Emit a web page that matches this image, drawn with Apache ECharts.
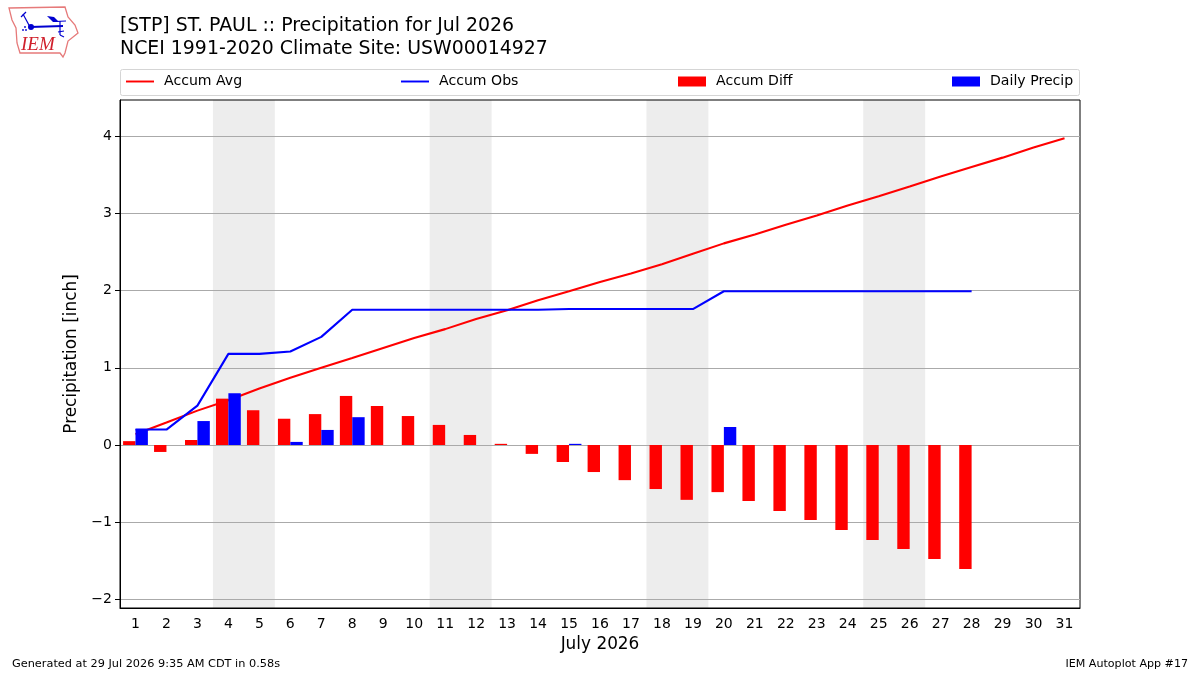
<!DOCTYPE html>
<html>
<head>
<meta charset="utf-8">
<title>Precipitation for Jul 2026</title>
<script src="https://cdn.jsdelivr.net/npm/echarts@6/dist/echarts.min.js"></script>
<style>
html, body { margin: 0; padding: 0; background: #fff; }
#chart { width: 1200px; height: 675px; }
</style>
</head>
<body>
<div id="chart"></div>
<script>
const days = ['1','2','3','4','5','6','7','8','9','10','11','12','13','14','15','16',
  '17','18','19','20','21','22','23','24','25','26','27','28','29','30','31'];
const accumAvg = [0.14,0.29,0.445,0.58,0.73,0.87,1.0,1.125,1.255,1.385,1.50,1.63,1.745,1.875,1.99,2.11,
  2.22,2.34,2.475,2.61,2.725,2.85,2.97,3.10,3.22,3.345,3.475,3.60,3.72,3.85,3.97];
const accumObs = [0.20,0.20,0.51,1.18,1.18,1.21,1.40,1.75,1.75,1.75,1.75,1.75,1.75,1.75,1.76,1.76,
  1.76,1.76,1.76,1.99,1.99,1.99,1.99,1.99,1.99,1.99,1.99,1.99,null,null,null];
const accumDiff = [0.05,-0.09,0.065,0.60,0.45,0.34,0.40,0.635,0.505,0.375,0.26,0.13,0.015,-0.115,-0.22,-0.35,
  -0.455,-0.57,-0.71,-0.61,-0.725,-0.855,-0.97,-1.10,-1.23,-1.347,-1.477,-1.606,null,null,null];
const dailyPrecip = [0.207,null,0.31,0.67,null,0.04,0.195,0.36,null,null,null,null,null,null,0.015,null,
  null,null,null,0.233,null,null,null,null,null,null,null,null,null,null,null];
const weekends = [[3.5,5.5],[10.5,12.5],[17.5,19.5],[24.5,26.5]];
const yTicks = [-2,-1,0,1,2,3,4];
const seriesNames = ['Accum Avg','Accum Obs','Accum Diff','Daily Precip'];
const legendLefts = [126,401,678,952];

const FONT = 'DejaVu Sans';
const RED = '#ff0000';
const BLUE = '#0000ff';

const chart = echarts.init(document.getElementById('chart'), null, { renderer: 'canvas' });

// One legend block per entry, spread across the strip above the plot.
const legends = seriesNames.map((name, i) => ({
  data: [{ name, icon: i < 2 ? 'path://M0,0H29V2H0Z' : 'rect' }],
  left: legendLefts[i],
  top: 74.5,
  padding: 0,
  itemWidth: 28,
  itemHeight: i < 2 ? 2 : 10,
  selectedMode: false,
  textStyle: { fontFamily: FONT, fontSize: 14.1, color: '#000', padding: [2, 0, 0, 5] }
}));

// Station logo: state outline, wind vane and lettering.
const logo = [
  { type: 'polygon', shape: { points: [[9,8],[65,7],[68,17],[75,25],[78,33],[68,41],[65,53],[63,57],[60,53],[20,53],[17,43],[16,28],[12,20]] },
    style: { fill: '#fff', stroke: '#e67a7a', lineWidth: 1.3 } },
  { type: 'line', shape: { x1: 30, y1: 27, x2: 63, y2: 26 }, style: { stroke: '#0000d0', lineWidth: 2 } },
  { type: 'line', shape: { x1: 30, y1: 27, x2: 23, y2: 14 }, style: { stroke: '#0000d0', lineWidth: 1.2 } },
  { type: 'line', shape: { x1: 21, y1: 17, x2: 26, y2: 12 }, style: { stroke: '#0000d0', lineWidth: 1.2 } },
  { type: 'circle', shape: { cx: 31, cy: 27, r: 3 }, style: { fill: '#0000d0' } },
  { type: 'polygon', shape: { points: [[47,16],[54,17],[59,22],[53,22]] }, style: { fill: '#0000d0' } },
  { type: 'line', shape: { x1: 55, y1: 21.5, x2: 66, y2: 21 }, style: { stroke: '#0000d0', lineWidth: 1.2 } },
  { type: 'line', shape: { x1: 60, y1: 21, x2: 60, y2: 35 }, style: { stroke: '#0000d0', lineWidth: 1.2 } },
  { type: 'line', shape: { x1: 58, y1: 32, x2: 64, y2: 31 }, style: { stroke: '#0000d0', lineWidth: 1.2 } },
  { type: 'line', shape: { x1: 60, y1: 35, x2: 64, y2: 37 }, style: { stroke: '#0000d0', lineWidth: 1.2 } },
  { type: 'circle', shape: { cx: 25, cy: 27, r: 0.9 }, style: { fill: '#0000d0' } },
  { type: 'circle', shape: { cx: 23, cy: 30, r: 0.9 }, style: { fill: '#0000d0' } },
  { type: 'circle', shape: { cx: 26, cy: 30, r: 0.9 }, style: { fill: '#0000d0' } },
  { type: 'text', x: 21, y: 35, style: { text: 'IEM', fill: '#d0202c',
      font: 'italic 19px "Liberation Serif"' } }
];

chart.setOption({
  animation: false,
  backgroundColor: '#fff',
  title: [
    { text: '[STP] ST. PAUL :: Precipitation for Jul 2026', left: 120, top: 17, padding: 0,
      textStyle: { fontFamily: FONT, fontSize: 18.9, fontWeight: 'normal', color: '#000' } },
    { text: 'NCEI 1991-2020 Climate Site: USW00014927', left: 120, top: 40, padding: 0,
      textStyle: { fontFamily: FONT, fontSize: 18.9, fontWeight: 'normal', color: '#000' } },
    { text: 'Generated at 29 Jul 2026 9:35 AM CDT in 0.58s', left: 12, top: 659, padding: 0,
      textStyle: { fontFamily: FONT, fontSize: 11.3, fontWeight: 'normal', color: '#000' } },
    { text: 'IEM Autoplot App #17', right: 12, top: 659, padding: 0,
      textStyle: { fontFamily: FONT, fontSize: 11.1, fontWeight: 'normal', color: '#000' } }
  ],
  legend: legends,
  grid: { left: 120, top: 100, width: 960, height: 508, show: true, borderColor: '#000', borderWidth: 1, backgroundColor: 'transparent' },
  xAxis: [
    {
      type: 'category', data: days, boundaryGap: true,
      name: 'July 2026', nameLocation: 'middle', nameGap: 28,
      nameTextStyle: { fontFamily: FONT, fontSize: 16.9, color: '#000' },
      axisLine: { onZero: false, lineStyle: { color: '#000', width: 1 } },
      axisTick: { alignWithLabel: true, length: 5, lineStyle: { color: '#000', width: 1 } },
      axisLabel: { interval: 0, margin: 9, fontFamily: FONT, fontSize: 14, color: '#000' },
      splitLine: { show: false }
    },
    { type: 'value', min: 0.5, max: 31.5, show: false, splitLine: { show: false } }
  ],
  yAxis: {
    type: 'value', min: -2.11, max: 4.466,
    name: 'Precipitation [inch]', nameLocation: 'middle', nameGap: 33,
    nameTextStyle: { fontFamily: FONT, fontSize: 16.9, color: '#000' },
    axisLine: { show: true, lineStyle: { color: '#000', width: 1 } },
    axisTick: { show: true, length: 5, lineStyle: { color: '#000', width: 1 }, customValues: yTicks },
    axisLabel: { margin: 8, padding: [2, 0, 0, 0], fontFamily: FONT, fontSize: 14, color: '#000', customValues: yTicks,
      formatter: v => String(v).replace('-', '\u2212') },
    splitLine: { show: true, lineStyle: { color: '#aaaaaa', width: 1 } }
  },
  series: [
    {
      // Weekend shading sits on the hidden numeric day axis, behind the grid lines.
      name: 'weekend', type: 'line', xAxisIndex: 1, data: [], z: -1, silent: true,
      markArea: { silent: true, z: -1, itemStyle: { color: '#ededed' }, label: { show: false },
        data: weekends.map(w => [{ xAxis: w[0] }, { xAxis: w[1] }]) }
    },
    { name: seriesNames[0], type: 'line', data: accumAvg, symbol: 'none', z: 2,
      lineStyle: { color: RED, width: 2.1 }, itemStyle: { color: RED } },
    { name: seriesNames[1], type: 'line', data: accumObs, symbol: 'none', z: 2,
      lineStyle: { color: BLUE, width: 2.1 }, itemStyle: { color: BLUE } },
    { name: seriesNames[2], type: 'bar', data: accumDiff, barWidth: 12.4, barGap: 0, z: 3,
      itemStyle: { color: RED } },
    { name: seriesNames[3], type: 'bar', data: dailyPrecip, barWidth: 12.4, barGap: 0, z: 3,
      itemStyle: { color: BLUE } }
  ],
  graphic: [
    { type: 'rect', shape: { x: 120.5, y: 69.5, width: 959, height: 26, r: 2 }, z: -5,
      style: { fill: '#fff', stroke: '#d5d5d5', lineWidth: 1 } },
    { type: 'group', x: 0, y: 0, children: logo, silent: true }
  ]
});
</script>
</body>
</html>
